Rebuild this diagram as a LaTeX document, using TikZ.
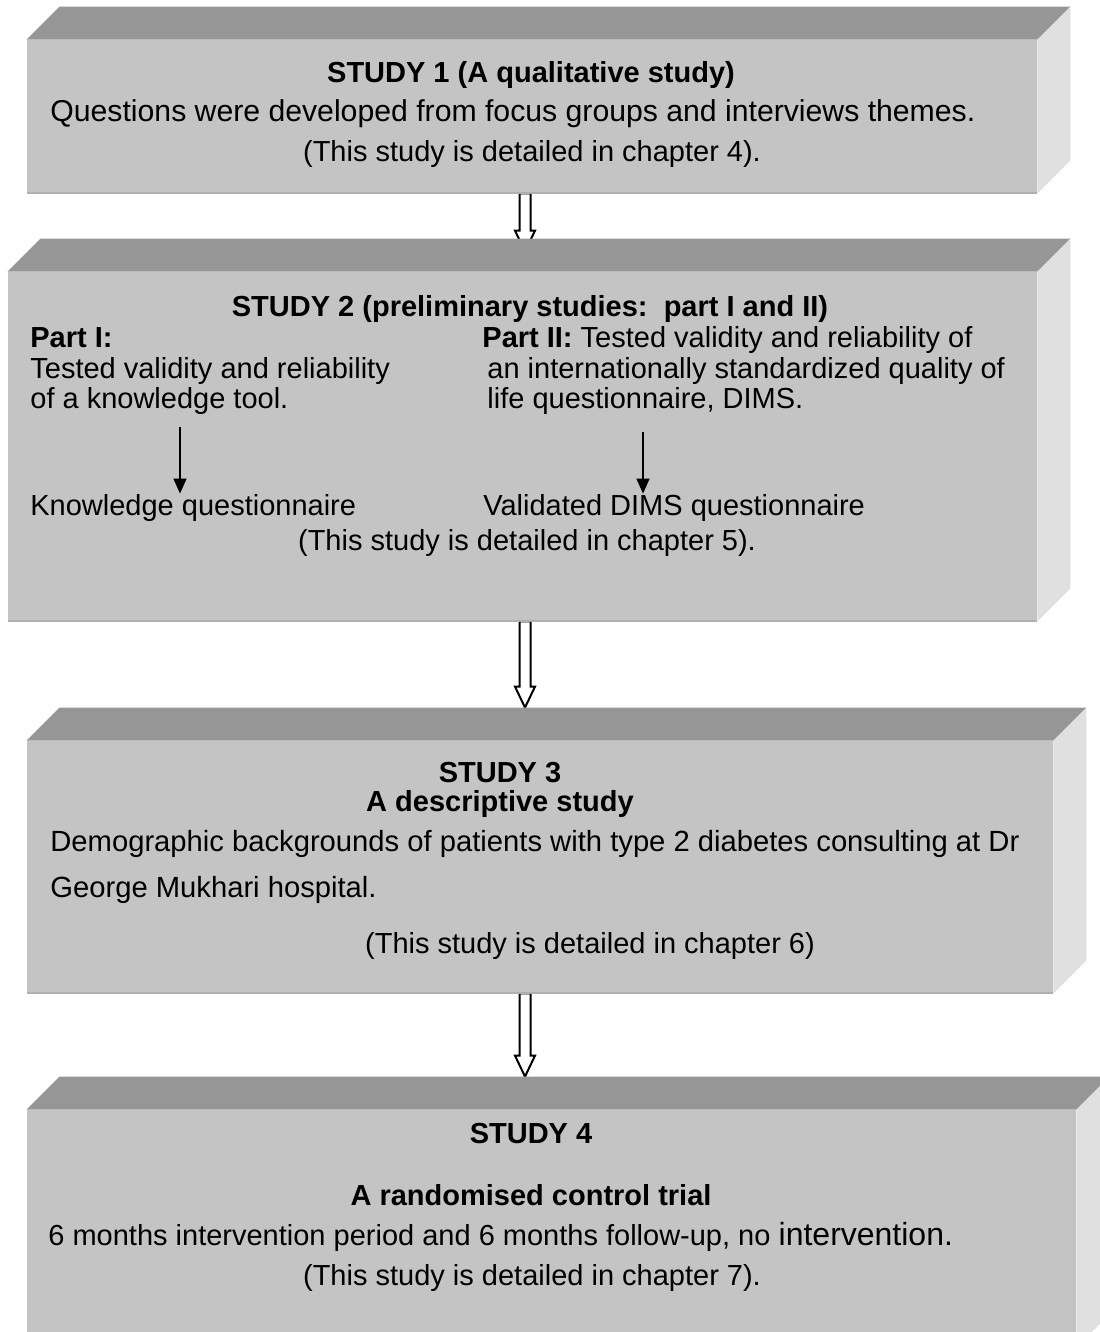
\documentclass[tikz,border=0pt]{standalone}
\usepackage{fontspec}
\setmainfont{Liberation Sans}
\usetikzlibrary{positioning, arrows.meta, calc}

\definecolor{frontgray}{RGB}{196,196,196}
\definecolor{topgray}{RGB}{150,150,150}
\definecolor{sidegray}{RGB}{224,224,224}
\definecolor{edgegray}{RGB}{176,176,176}

% top and right faces of a slab
\newcommand\slabfaces[1]{%
  \fill[topgray] (#1.north west) -- ++(33,-33) -- ($(#1.north east)+(33,-33)$) -- (#1.north east) -- cycle;
  \fill[sidegray] (#1.north east) -- ++(33,-33) -- ($(#1.south east)+(33,-33)$) -- (#1.south east) -- cycle;
  \draw[edgegray, line width=1pt] (#1.south west) -- (#1.south east);
}
% outlined block arrow
\newcommand\hollowarrow[2]{%
  \draw[hollow] let \p1=(#1), \p2=(#2) in
    (\x1-2.75pt,\y1) -- (\x1-2.75pt,\y2+10.5pt) -- (\x1-5pt,\y2+10.5pt) -- (\x1,\y2)
    -- (\x1+5pt,\y2+10.5pt) -- (\x1+2.75pt,\y2+10.5pt) -- (\x1+2.75pt,\y1) -- cycle;
}

\begin{document}
\begin{tikzpicture}[x=0.5pt, y=-0.5pt,
  slab/.style={rectangle, fill=frontgray, inner sep=0pt},
  txt/.style={inner sep=0pt, font=\fontsize{14.5}{17}\selectfont},
  title/.style={inner sep=0pt, font=\fontsize{14.5}{17}\selectfont\bfseries},
  thin arrow/.style={-{Triangle[length=7.5pt, width=6.5pt]}, line width=0.65pt},
  hollow/.style={draw=black, fill=white, line width=1pt, line join=miter}
]
  \useasboundingbox (0,0) rectangle (1099,1332);

  % Slabs
  \node[slab, minimum width=505pt, minimum height=76.5pt] (b1) at (532,116.5) {};
  \node[slab, minimum width=514.5pt, minimum height=174.5pt] (b2) at (522.5,446.5) {};
  \node[slab, minimum width=513pt, minimum height=126pt] (b3) at (540,867) {};
  \node[slab, minimum width=524.5pt, minimum height=118.5pt] (b4) at (551.5,1228.5) {};

  % Block arrows
  \coordinate (t2) at ($(b2.north)+(2.5,-20)$);
  \coordinate (t3) at ($(b3.north -| t2)+(0,-33)$);
  \coordinate (t4) at ($(b4.north -| t2)+(0,-33)$);
  \hollowarrow{b1.south -| t2}{t2}
  \hollowarrow{b2.south -| t2}{t3}
  \hollowarrow{b3.south -| t2}{t4}

  \slabfaces{b1}
  \slabfaces{b2}
  \slabfaces{b3}
  \slabfaces{b4}

  % Study 1
  \node[title, anchor=base] (s1) at (531,83) {STUDY 1 (A qualitative study)};
  \node[txt, anchor=base west, font=\fontsize{15.1}{17}\selectfont] (q1) at (50,122) {Questions were developed from focus groups and interviews themes.};
  \node[txt, anchor=base] (c1) at (532,162) {(This study is detailed in chapter 4).};

  % Study 2
  \node[title, anchor=base] (s2) at (530,316) {STUDY 2 (preliminary studies:\ \ part I and II)};
  \node[txt, anchor=base west] (p1a) at (30,347) {\textbf{Part I:}};
  \node[txt, anchor=base west] (p1b) at (30,378) {Tested validity and reliability};
  \node[txt, anchor=base west] (p1c) at (30,408) {of a knowledge tool.};
  \node[txt, anchor=base west] (p2a) at (482,347) {\textbf{Part II:} Tested validity and reliability of};
  \node[txt, anchor=base west] (p2b) at (487,378) {an internationally standardized quality of};
  \node[txt, anchor=base west] (p2c) at (487,408) {life questionnaire, DIMS.};
  \node[txt, anchor=base west] (k1) at (30,515) {Knowledge questionnaire};
  \node[txt, anchor=base west] (k2) at (483,515) {Validated DIMS questionnaire};
  \node[txt, anchor=base] (c2) at (527,550) {(This study is detailed in chapter 5).};
  \coordinate (a1) at (180,427);
  \coordinate (a2) at (643,432);
  \draw[thin arrow] (a1) -- (a1 |- k1.north);
  \draw[thin arrow] (a2) -- (a2 |- k2.north);

  % Study 3
  \node[title, anchor=base] (s3) at (500,782) {STUDY 3};
  \node[title, anchor=base] (d3) at (500,811) {A descriptive study};
  \node[txt, anchor=base west, font=\fontsize{14.6}{17}\selectfont] (g3a) at (50,851) {Demographic backgrounds of patients with type 2 diabetes consulting at Dr};
  \node[txt, anchor=base west, font=\fontsize{14.6}{17}\selectfont] (g3b) at (50,897) {George Mukhari hospital.};
  \node[txt, anchor=base] (c3) at (590,953) {(This study is detailed in chapter 6)};

  % Study 4
  \node[title, anchor=base] (s4) at (531,1143) {STUDY 4};
  \node[title, anchor=base] (r4) at (531,1205) {A randomised control trial};
  \node[txt, anchor=base west] (m4) at (48,1245) {6 months intervention period and 6 months follow-up, no {\fontsize{16}{17}\selectfont intervention.}};
  \node[txt, anchor=base] (c4) at (532,1285) {(This study is detailed in chapter 7).};
\end{tikzpicture}
\end{document}
